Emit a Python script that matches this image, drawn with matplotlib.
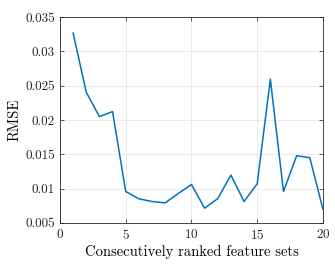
import matplotlib
matplotlib.use("Agg")
import matplotlib.pyplot as plt

# RMSE per number of consecutively ranked feature sets
n_sets = list(range(1, 21))
rmse = [0.03266, 0.02404, 0.02049, 0.02122, 0.00958, 0.00851, 0.00812, 0.00792,
        0.00929, 0.01060, 0.00714, 0.00855, 0.01196, 0.00812, 0.01070, 0.02594,
        0.00958, 0.01479, 0.01450, 0.00700]
xticks = [0, 5, 10, 15, 20]
yticks = [0.005, 0.01, 0.015, 0.02, 0.025, 0.03, 0.035]
ytick_labels = ["0.005", "0.01", "0.015", "0.02", "0.025", "0.03", "0.035"]

plt.rcParams['font.family'] = 'serif'
plt.rcParams['font.serif'] = ['cmr10']
plt.rcParams['axes.formatter.use_mathtext'] = True

fig = plt.figure(figsize=(3.35, 2.66), dpi=100)
ax = fig.add_axes([0.179, 0.162, 0.785, 0.774])
ax.plot(n_sets, rmse, color='#0072BD', linewidth=1.1)
ax.set_xlim(0, 20)
ax.set_ylim(0.005, 0.035)
ax.set_xticks(xticks)
ax.set_yticks(yticks)
ax.set_yticklabels(ytick_labels)
ax.grid(True, color='#e6e6e6', linewidth=0.6)
ax.set_axisbelow(True)
ax.tick_params(direction='in', length=3, width=0.5, colors='#262626', labelsize=9.5,
               top=True, right=True)
for s in ax.spines.values():
    s.set_linewidth(0.6)
    s.set_color('#262626')
ax.set_xlabel("Consecutively ranked feature sets", fontsize=10.5, labelpad=2)
ax.set_ylabel("RMSE", fontsize=10.5, labelpad=3)

fig.savefig("out.png", dpi=100)
